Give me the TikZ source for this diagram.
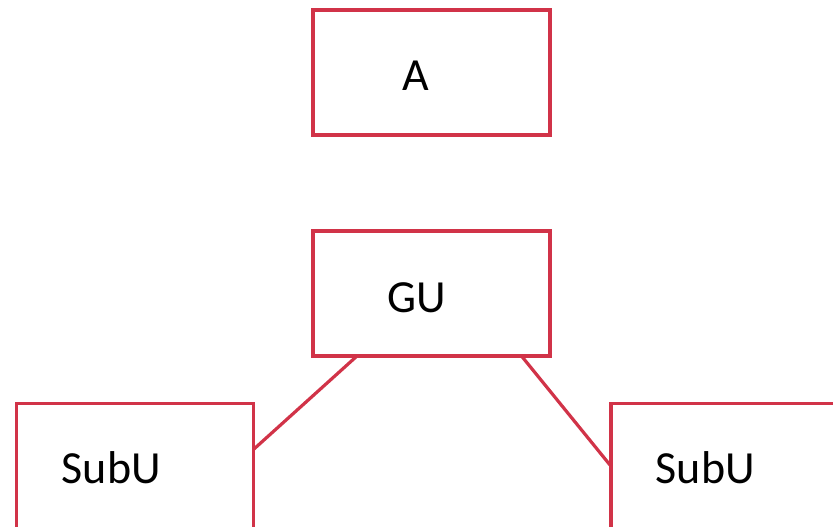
\documentclass[tikz,border=0pt]{standalone}
\usepackage{fontspec}
\setmainfont{Carlito}
\definecolor{boxred}{RGB}{209,51,72}
\begin{document}
\begin{tikzpicture}[x=1pt,y=1pt,
  box/.style={draw=boxred,line width=3.6pt,fill=white,minimum width=237pt,minimum height=125pt,inner sep=0pt,outer sep=0pt},
  lbl/.style={font=\fontsize{46}{50}\selectfont,inner sep=0pt,anchor=base},
  conn/.style={draw=boxred,line width=3.2pt}]
\clip (0,0) rectangle (833,527);
\fill[white] (0,0) rectangle (833,527);
\coordinate (g1) at (357,171);
\coordinate (g2) at (521.5,171);
\coordinate (s1) at (254,78);
\coordinate (s2) at (610,62);
\draw[conn] (g1) -- (s1);
\draw[conn] (g2) -- (s2);
\node[box] (a) at (431.75,454.5) {};
\node[box] (gu) at (431.75,233.5) {};
\node[box] (subl) at (134.85,60.8) {};
\node[box] (subr) at (729.3,60.8) {};
\node[lbl] (ta) at (415.5,436.3) {A};
\node[lbl] (tgu) at (417,214) {GU};
\node[lbl] (tsl) at (111.3,43.7) {SubU};
\node[lbl] (tsr) at (705.3,43.7) {SubU};
\end{tikzpicture}
\end{document}
